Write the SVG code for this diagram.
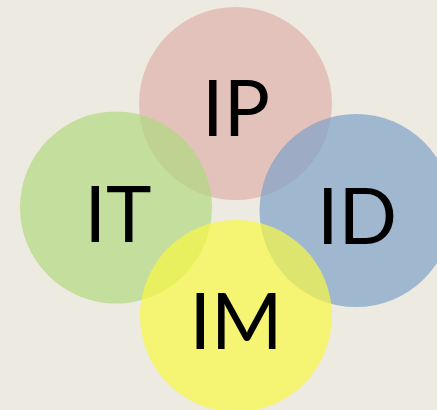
<svg xmlns="http://www.w3.org/2000/svg" width="437" height="410" viewBox="0 0 437 410">
<style>
.c{opacity:0.7}
.t{font-family:Lato,"Open Sans","Liberation Sans",sans-serif;font-size:77px;fill:#000;text-anchor:middle}
</style>
<rect width="437" height="410" fill="#EDEBE1"/>
<g id="IP"><circle class="c" cx="235.5" cy="103.5" r="96.5" fill="#DFB0AC"/></g>
<g id="IT"><circle class="c" cx="116" cy="207.5" r="96" fill="#B1D880"/></g>
<g id="ID"><circle class="c" cx="356" cy="210.5" r="96.5" fill="#7FA1C9"/></g>
<g id="IM"><circle class="c" cx="236" cy="316" r="96" fill="#F8F845"/></g>
<g id="labels">
<text class="t" x="236" y="136">IP</text>
<text class="t" x="118" y="242">IT</text>
<text class="t" x="357" y="244">ID</text>
<text class="t" x="236" y="349">IM</text>
</g>
<g id="connectors"/>
</svg>
